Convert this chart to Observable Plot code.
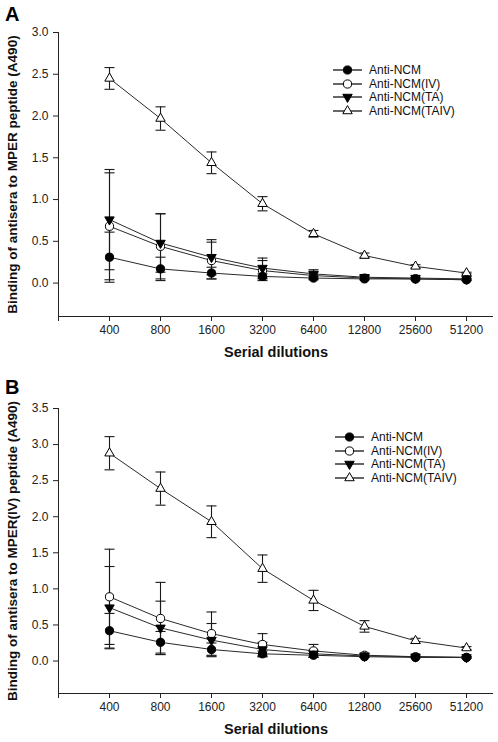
<!DOCTYPE html>
<html><head><meta charset="utf-8">
<script src="https://cdn.jsdelivr.net/npm/d3@7"></script>
<script src="https://cdn.jsdelivr.net/npm/@observablehq/plot@0.6"></script>
<style>
body{margin:0;background:#fff;font-family:"Liberation Sans",Arial,sans-serif;}
#wrap{position:relative;width:498px;height:742px;overflow:hidden;}
.panel{position:absolute;left:0;width:498px;height:371px;}
.tag{position:absolute;left:5px;font-weight:bold;font-size:20px;line-height:1;color:#000;}
.legend{position:absolute;font-size:12px;color:#111;}
.legend .row{display:flex;align-items:center;height:13.7px;white-space:nowrap;}
.legend svg{display:block;margin-right:6px;}
</style></head><body>
<div id="wrap"></div>
<script>
// ---------- data ----------
const dilutions = [400, 800, 1600, 3200, 6400, 12800, 25600, 51200];
const seriesNames = ["Anti-NCM", "Anti-NCM(IV)", "Anti-NCM(TA)", "Anti-NCM(TAIV)"];

// Panel A: binding to MPER peptide
const aNCM      = [0.31, 0.17, 0.12, 0.08, 0.06, 0.05, 0.05, 0.04];
const aNCMErr   = [0.30, 0.14, 0.07, 0.03, 0.02, 0.01, 0.01, 0.01];
const aIV       = [0.68, 0.44, 0.27, 0.15, 0.09, 0.06, 0.05, 0.04];
const aIVErr    = [0.64, 0.39, 0.22, 0.12, 0.04, 0.02, 0.01, 0.01];
const aTA       = [0.76, 0.48, 0.31, 0.18, 0.11, 0.07, 0.06, 0.05];
const aTAErr    = [0.60, 0.35, 0.21, 0.12, 0.05, 0.02, 0.01, 0.01];
const aTAIV     = [2.45, 1.97, 1.44, 0.95, 0.59, 0.33, 0.20, 0.12];
const aTAIVErr  = [0.13, 0.14, 0.13, 0.085, 0.04, 0.03, 0.02, 0.01];

// Panel B: binding to MPER(IV) peptide
const bNCM      = [0.42, 0.26, 0.16, 0.10, 0.08, 0.06, 0.05, 0.05];
const bNCMErr   = [0.24, 0.15, 0.09, 0.04, 0.02, 0.01, 0.01, 0.01];
const bIV       = [0.89, 0.59, 0.38, 0.23, 0.14, 0.08, 0.06, 0.05];
const bIVErr    = [0.66, 0.50, 0.30, 0.15, 0.09, 0.03, 0.01, 0.01];
const bTA       = [0.74, 0.46, 0.29, 0.16, 0.10, 0.07, 0.06, 0.05];
const bTAErr    = [0.57, 0.37, 0.23, 0.10, 0.05, 0.02, 0.01, 0.01];
const bTAIV     = [2.88, 2.39, 1.93, 1.28, 0.84, 0.48, 0.28, 0.18];
const bTAIVErr  = [0.23, 0.23, 0.22, 0.19, 0.14, 0.08, 0.035, 0.02];

const yTicksA = [0.0, 0.5, 1.0, 1.5, 2.0, 2.5, 3.0];
const yTicksB = [0.0, 0.5, 1.0, 1.5, 2.0, 2.5, 3.0, 3.5];
const xTickLabels = ["400", "800", "1600", "3200", "6400", "12800", "25600", "51200"];
const xTitle = "Serial dilutions";
const yTitleA = "Binding of antisera to MPER peptide (A490)";
const yTitleB = "Binding of antisera to MPER(IV) peptide (A490)";

// ---------- styling ----------
const styles = {
  "Anti-NCM":       {symbol: "circle",   fill: "#000", r: 4.1, rotate: 0},
  "Anti-NCM(IV)":   {symbol: "circle",   fill: "#fff", r: 4.1, rotate: 0},
  "Anti-NCM(TA)":   {symbol: "triangle", fill: "#000", r: 3.5, rotate: 180},
  "Anti-NCM(TAIV)": {symbol: "triangle", fill: "#fff", r: 3.5, rotate: 0}
};
const drawOrder = ["Anti-NCM(IV)", "Anti-NCM(TA)", "Anti-NCM(TAIV)", "Anti-NCM"];
const capSymbol = {draw(ctx, size) { const w = Math.sqrt(size / Math.PI); ctx.moveTo(-w, 0); ctx.lineTo(w, 0); }};

function buildRows(vals, errs) {
  const out = [];
  seriesNames.forEach((name, s) => {
    dilutions.forEach((d, i) => {
      out.push({series: name, dilution: d, value: vals[s][i], lo: vals[s][i] - errs[s][i], hi: vals[s][i] + errs[s][i]});
    });
  });
  return out;
}

function panel({rows, yDomain, yTicks, yTitle, marginTop, marginBottom}) {
  const xDomain = [200, 73880];
  const fmtX = d => { const i = dilutions.indexOf(d); return i < 0 ? "" : xTickLabels[i]; };
  const font = "'Liberation Sans', Arial, sans-serif";
  const marks = [
    Plot.ruleX(rows, {x: "dilution", y1: "lo", y2: "hi", stroke: "#1a1a1a", strokeWidth: 1.1}),
    Plot.dot(rows, {x: "dilution", y: "lo", symbol: capSymbol, r: 5, fill: "none", stroke: "#1a1a1a", strokeWidth: 1.1}),
    Plot.dot(rows, {x: "dilution", y: "hi", symbol: capSymbol, r: 5, fill: "none", stroke: "#1a1a1a", strokeWidth: 1.1}),
    Plot.line(rows, {x: "dilution", y: "value", z: "series", stroke: "#2a2a2a", strokeWidth: 1})
  ];
  for (const name of drawOrder) {
    const st = styles[name];
    marks.push(Plot.dot(rows.filter(r => r.series === name), {
      x: "dilution", y: "value", symbol: st.symbol, r: st.r, rotate: st.rotate,
      fill: st.fill, stroke: "#000", strokeWidth: 1
    }));
  }
  marks.push(
    Plot.ruleX([xDomain[0]], {stroke: "#222", strokeWidth: 1}),
    Plot.ruleY([yDomain[0]], {stroke: "#222", strokeWidth: 1}),
    Plot.axisY({ticks: yTicks, tickFormat: d3.format(".1f"), tickSize: 5, tickPadding: 5, label: null, fontSize: 12, fill: "#222", stroke: "#222"}),
    Plot.axisX({ticks: [xDomain[0], ...dilutions], tickFormat: fmtX, tickSize: 5, tickPadding: 4, label: null, fontSize: 12, fill: "#222", stroke: "#222"}),
    Plot.text([yTitle], {text: d => d, frameAnchor: "left", textAnchor: "middle", dx: -46, rotate: -90, fontWeight: "bold", fontSize: 13.5, fill: "#111"}),
    Plot.text([xTitle], {text: d => d, frameAnchor: "bottom", textAnchor: "middle", dy: 40, fontWeight: "bold", fontSize: 14.5, fill: "#111"})
  );
  return Plot.plot({
    width: 498, height: 371,
    marginTop, marginBottom, marginLeft: 58, marginRight: 5,
    x: {type: "log", base: 2, domain: xDomain},
    y: {domain: yDomain},
    style: {fontFamily: font, fontSize: "12px", background: "#fff", color: "#222"},
    marks
  });
}

function legend(left, top) {
  const div = document.createElement("div");
  div.className = "legend";
  div.style.left = left + "px";
  div.style.top = top + "px";
  for (const name of seriesNames) {
    const st = styles[name];
    const row = document.createElement("div");
    row.className = "row";
    const svg = d3.create("svg").attr("width", 30).attr("height", 14);
    svg.append("line").attr("x1", 0).attr("x2", 29).attr("y1", 7).attr("y2", 7).attr("stroke", "#000").attr("stroke-width", 1.2);
    const type = st.symbol === "circle" ? d3.symbolCircle : d3.symbolTriangle;
    svg.append("path")
      .attr("transform", `translate(14.5,7) rotate(${st.rotate})`)
      .attr("d", d3.symbol(type, Math.PI * st.r * st.r)())
      .attr("fill", st.fill).attr("stroke", "#000").attr("stroke-width", 1);
    row.appendChild(svg.node());
    const span = document.createElement("span");
    span.textContent = name;
    row.appendChild(span);
    div.appendChild(row);
  }
  return div;
}

const wrap = document.getElementById("wrap");

const rowsA = buildRows([aNCM, aIV, aTA, aTAIV], [aNCMErr, aIVErr, aTAErr, aTAIVErr]);
const rowsB = buildRows([bNCM, bIV, bTA, bTAIV], [bNCMErr, bIVErr, bTAErr, bTAIVErr]);

const pA = document.createElement("div"); pA.className = "panel"; pA.style.top = "0px";
pA.appendChild(panel({rows: rowsA, yDomain: [-0.4, 3.0], yTicks: yTicksA, yTitle: yTitleA, marginTop: 32, marginBottom: 55}));
wrap.appendChild(pA);

const pB = document.createElement("div"); pB.className = "panel"; pB.style.top = "371px";
pB.appendChild(panel({rows: rowsB, yDomain: [-0.45, 3.5], yTicks: yTicksB, yTitle: yTitleB, marginTop: 37, marginBottom: 49}));
wrap.appendChild(pB);

const tA = document.createElement("div"); tA.className = "tag"; tA.style.top = "4px"; tA.textContent = "A"; wrap.appendChild(tA);
const tB = document.createElement("div"); tB.className = "tag"; tB.style.top = "377px"; tB.textContent = "B"; wrap.appendChild(tB);

wrap.appendChild(legend(333, 63));
wrap.appendChild(legend(335, 430));
</script>
</body></html>
